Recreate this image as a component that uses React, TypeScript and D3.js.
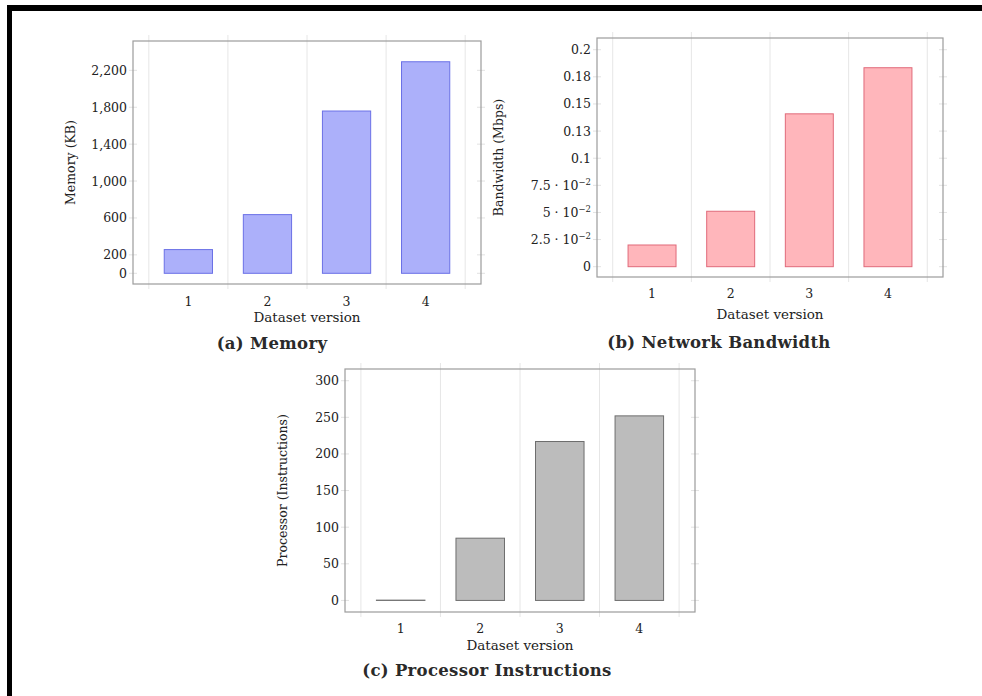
import React, { useEffect, useRef } from "react";
import * as d3 from "d3";

// dataset versions on the x axis
const versions = [1, 2, 3, 4];

// (a) memory, KB
const memoryKB = [257, 636, 1759, 2293];
const memoryTicks = [0, 200, 600, 1000, 1400, 1800, 2200];
const memoryTickLabels = ["0", "200", "600", "1,000", "1,400", "1,800", "2,200"];

// (b) network bandwidth, Mbps
const bandwidthMbps = [0.02, 0.0511, 0.1409, 0.1834];
const bandwidthTicks = [0, 0.025, 0.05, 0.075, 0.1, 0.125, 0.15, 0.175, 0.2];
const bandwidthTickLabels = [
  "0",
  "2.5 · 10^−2",
  "5 · 10^−2",
  "7.5 · 10^−2",
  "0.1",
  "0.13",
  "0.15",
  "0.18",
  "0.2",
];

// (c) processor instructions
const processorInstr = [0.4, 85, 217, 252];
const processorTicks = [0, 50, 100, 150, 200, 250, 300];
const processorTickLabels = ["0", "50", "100", "150", "200", "250", "300"];

const FONT = "'DejaVu Serif', 'Liberation Serif', serif";
const BAR_W = 0.61;

const panels = [
  {
    values: memoryKB,
    ticks: memoryTicks,
    tickLabels: memoryTickLabels,
    yDomain: [-116, 2518],
    box: { left: 133, top: 41, right: 481, bottom: 284 },
    yLabel: "Memory (KB)",
    yLabelX: 70,
    xTickY: 305.5,
    xLabelY: 322,
    caption: "(a) Memory",
    captionX: 272,
    captionY: 349,
    fill: "#acb0fa",
    stroke: "#6a70e6",
  },
  {
    values: bandwidthMbps,
    ticks: bandwidthTicks,
    tickLabels: bandwidthTickLabels,
    yDomain: [-0.0095, 0.2108],
    box: { left: 597, top: 38, right: 943, bottom: 277 },
    yLabel: "Bandwidth (Mbps)",
    yLabelX: 498,
    xTickY: 298,
    xLabelY: 319,
    caption: "(b) Network Bandwidth",
    captionX: 719,
    captionY: 348,
    fill: "#ffb6bb",
    stroke: "#e06a7a",
  },
  {
    values: processorInstr,
    ticks: processorTicks,
    tickLabels: processorTickLabels,
    yDomain: [-15.8, 316],
    box: { left: 345, top: 369, right: 695, bottom: 612 },
    yLabel: "Processor (Instructions)",
    yLabelX: 282,
    xTickY: 633,
    xLabelY: 650,
    caption: "(c) Processor Instructions",
    captionX: 487,
    captionY: 676,
    fill: "#bcbcbc",
    stroke: "#6e6e6e",
  },
];

function drawPanel(root, p) {
  const { box } = p;
  const x = d3.scaleLinear().domain([0.3, 4.7]).range([box.left, box.right]);
  const y = d3.scaleLinear().domain(p.yDomain).range([box.bottom, box.top]);
  const g = root.append("g");

  // vertical grid lines between the categories
  g.selectAll(".vgrid")
    .data(d3.range(0.5, 5, 1))
    .enter()
    .append("line")
    .attr("x1", (d) => x(d))
    .attr("x2", (d) => x(d))
    .attr("y1", box.top - 6)
    .attr("y2", box.bottom + 5)
    .attr("stroke", "#e6e6e6")
    .attr("stroke-width", 1);

  // faint y ticks on both sides of the box
  [box.left, box.right].forEach((bx) => {
    g.selectAll(null)
      .data(p.ticks)
      .enter()
      .append("line")
      .attr("x1", bx - 4)
      .attr("x2", bx + 4)
      .attr("y1", (d) => y(d))
      .attr("y2", (d) => y(d))
      .attr("stroke", "#e2e2e2");
  });

  g.selectAll(".bar")
    .data(p.values)
    .enter()
    .append("rect")
    .attr("x", (d, i) => x(versions[i] - BAR_W / 2))
    .attr("width", x(BAR_W) - x(0))
    .attr("y", (d) => y(d))
    .attr("height", (d) => y(0) - y(d))
    .attr("fill", p.fill)
    .attr("stroke", p.stroke)
    .attr("stroke-width", 1);

  g.append("rect")
    .attr("x", box.left)
    .attr("y", box.top)
    .attr("width", box.right - box.left)
    .attr("height", box.bottom - box.top)
    .attr("fill", "none")
    .attr("stroke", "#9c9c9c")
    .attr("stroke-width", 1.2);

  // y tick labels (some with a superscript exponent)
  const yt = g
    .selectAll(".ytick")
    .data(p.ticks)
    .enter()
    .append("text")
    .attr("x", box.left - 6)
    .attr("y", (d) => y(d) + 4.5)
    .attr("text-anchor", "end")
    .style("font-family", FONT)
    .style("font-size", "12.5px")
    .style("fill", "#222");
  yt.each(function (d, i) {
    const parts = p.tickLabels[i].split("^");
    const t = d3.select(this);
    t.append("tspan").text(parts[0]);
    if (parts[1]) {
      t.append("tspan")
        .attr("dy", -5)
        .style("font-size", "8.5px")
        .text(parts[1]);
    }
  });

  g.selectAll(".xtick")
    .data(versions)
    .enter()
    .append("text")
    .attr("x", (d) => x(d))
    .attr("y", p.xTickY)
    .attr("text-anchor", "middle")
    .style("font-family", FONT)
    .style("font-size", "12.5px")
    .style("fill", "#222")
    .text((d) => d);

  g.append("text")
    .attr("x", (box.left + box.right) / 2)
    .attr("y", p.xLabelY)
    .attr("text-anchor", "middle")
    .style("font-family", FONT)
    .style("font-size", "13.5px")
    .style("fill", "#222")
    .text("Dataset version");

  g.append("text")
    .attr(
      "transform",
      `translate(${p.yLabelX},${(box.top + box.bottom) / 2}) rotate(-90)`
    )
    .attr("text-anchor", "middle")
    .attr("dominant-baseline", "central")
    .style("font-family", FONT)
    .style("font-size", "12.5px")
    .style("fill", "#222")
    .text(p.yLabel);

  g.append("text")
    .attr("x", p.captionX)
    .attr("y", p.captionY)
    .attr("text-anchor", "middle")
    .style("font-family", FONT)
    .style("font-size", "16.5px")
    .style("font-weight", "bold")
    .style("letter-spacing", "0.3px")
    .style("fill", "#2a2a2a")
    .text(p.caption);
}

const App = () => {
  const svgRef = useRef();

  useEffect(() => {
    const svg = d3.select(svgRef.current);
    svg.selectAll("*").remove();

    svg.append("rect").attr("width", 982).attr("height", 696).attr("fill", "#fff");

    // black frame, top and left edges only
    svg.append("rect").attr("x", 7).attr("y", 5).attr("width", 975).attr("height", 6).attr("fill", "#000");
    svg.append("rect").attr("x", 7).attr("y", 5).attr("width", 5).attr("height", 691).attr("fill", "#000");

    panels.forEach((p) => drawPanel(svg, p));
  }, []);

  return (
    <svg
      ref={svgRef}
      width={982}
      height={696}
      style={{ position: "absolute", left: 0, top: 0 }}
    ></svg>
  );
};

export default App;
